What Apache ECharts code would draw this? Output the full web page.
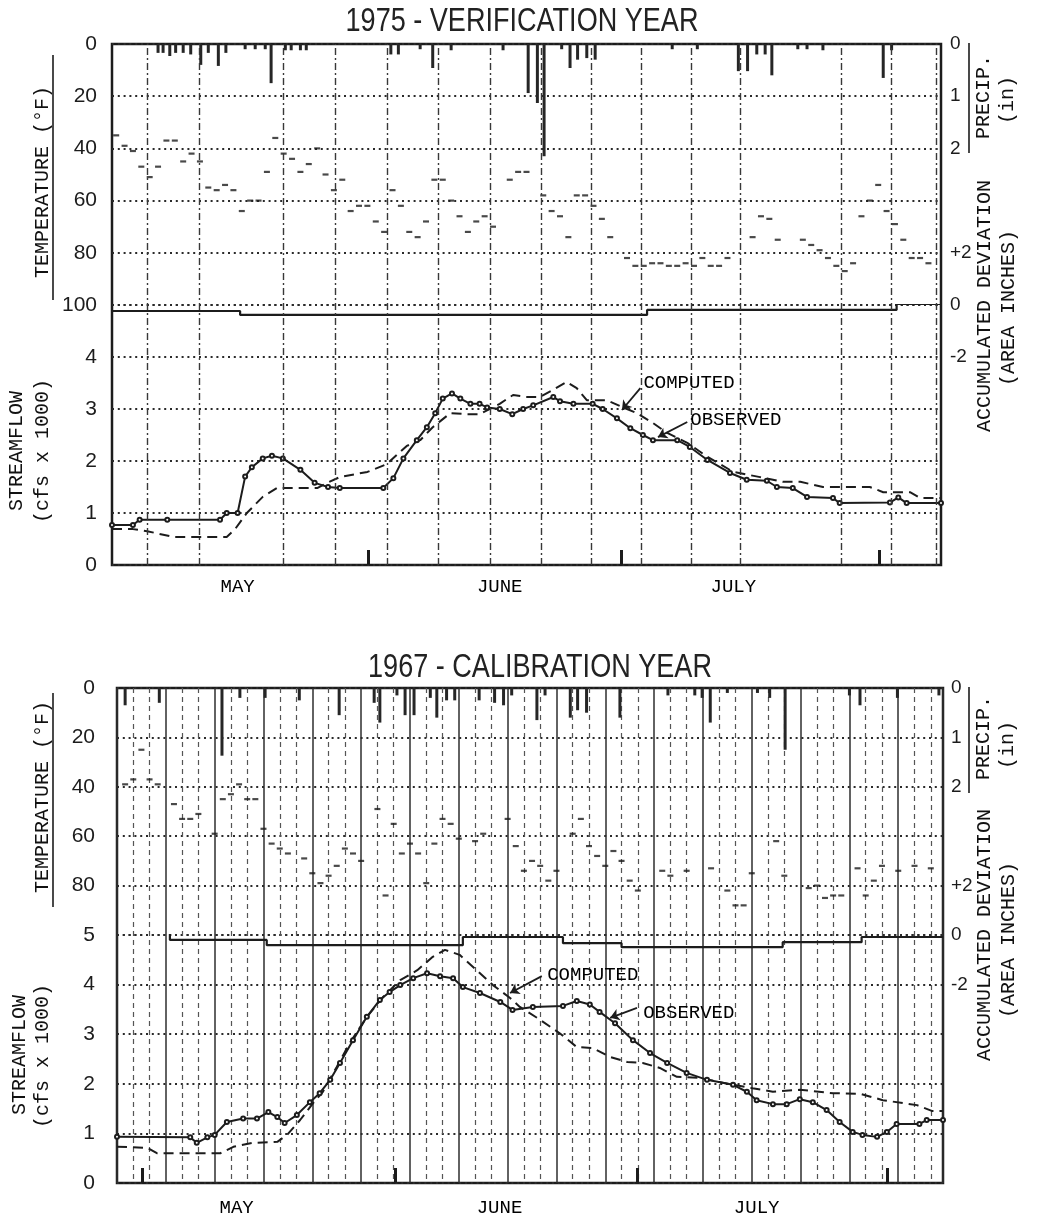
<!DOCTYPE html>
<html><head><meta charset="utf-8">
<script src="https://cdn.jsdelivr.net/npm/echarts/dist/echarts.min.js"></script>
<style>html,body{margin:0;padding:0;background:#fff}#c{width:1037px;height:1224px}</style>
</head><body><div id="c"></div>
<script>
// ---------------- DATA ----------------
const TITLES = ['1975 - VERIFICATION YEAR', '1967 - CALIBRATION YEAR'];
const MONTHS = ['MAY', 'JUNE', 'JULY'];
const topMonthPos = [15.0, 46.3, 74.2];
const botMonthPos = [14.7, 47.0, 78.6];
const topMonthEnds = [30.6, 60.8, 91.6];
const botMonthEnds = [3.1, 34.2, 63.9, 94.7];
const topVLines = [4.24, 10.39, 20.48, 26.63, 32.84, 38.93, 45.14, 51.23, 57.26, 63.17, 69.14, 75.05, 87.05, 93.03, 98.4];

// daily mean temperature (deg F), one per day, null = not visible
const topTemp = [35,39,41,47,51,47,37,37,45,42,45,55,56,54,56,64,60,60,49,36,42,44,49,46,40,50,56,52,64,62,62,68,72,56,62,72,74,68,52,52,60,66,72,68,66,70,null,52,49,49,null,58,64,66,74,58,58,62,67,74,null,82,85,85,84,84,85,85,84,85,82,85,85,82,null,null,74,66,67,75,null,null,75,77,79,82,85,87,84,66,60,54,64,69,75,82,82,84];
const botTemp = [39,37,25,37,39,null,47,53,53,51,null,59,45,43,39,45,45,57,63,65,67,null,69,75,79,76,72,65,67,70,null,49,84,55,67,63,67,79,63,53,55,61,null,62,59,null,null,53,64,74,70,72,78,74,null,59,53,64,68,72,66,70,78,82,null,null,74,76,null,74,null,null,73,null,82,88,88,75,null,null,62,76,null,null,81,80,85,84,84,null,73,84,78,72,null,74,null,72,null,73];

// precipitation (in)
const topPrecipDay = [5.5,6.1,6.9,7.6,8.5,9.4,10.6,11.5,12.7,13.6,15.9,17.1,18.3,19.0,20.7,21.4,22.5,23.2,33.3,34.2,36.8,38.3,40.5,46.7,49.7,50.8,51.6,53.7,54.7,55.6,56.7,57.7,66.9,69.9,74.8,75.9,77.0,78.0,78.8,81.9,83.0,84.9,92.1,93.1];
const topPrecip = [0.17,0.17,0.23,0.17,0.17,0.2,0.4,0.17,0.42,0.17,0.1,0.1,0.1,0.75,0.12,0.12,0.12,0.12,0.2,0.2,0.1,0.46,0.12,0.12,0.94,1.13,2.15,0.1,0.46,0.3,0.27,0.3,0.1,0.1,0.52,0.52,0.2,0.2,0.6,0.1,0.1,0.12,0.65,0.12];
const botPrecipDay = [1.0,5.2,12.9,15.1,18.2,22.4,27.3,31.6,32.3,34.4,35.4,36.5,38.5,39.3,40.5,41.5,44.5,46.4,47.5,48.5,51.6,52.6,55.7,56.6,57.7,61.8,67.7,71.0,71.9,72.9,75.0,78.7,80.2,82.1,90.0,91.3,95.9,101.0];
const botPrecip = [0.35,0.3,1.37,0.2,0.2,0.25,0.55,0.3,0.7,0.15,0.55,0.55,0.2,0.6,0.25,0.25,0.25,0.3,0.35,0.15,0.65,0.15,0.6,0.45,0.5,0.6,0.15,0.15,0.2,0.7,0.1,0.1,0.2,1.25,0.15,0.35,0.2,0.15];

// streamflow (cfs x 1000)
const topObsDay = [0,2.5,3.3,6.6,12.9,13.7,15.0,15.9,16.7,18.0,19.1,20.4,22.5,24.2,25.8,27.2,32.4,33.6,34.8,36.4,37.6,38.6,39.5,40.6,41.6,42.8,43.9,44.8,46.3,47.8,49.1,50.3,52.7,53.5,55.1,57.4,58.6,60.3,61.9,63.4,64.6,67.5,69.0,71.1,73.8,75.8,78.2,79.4,81.3,83.0,86.1,86.9,92.9,93.9,94.9,99];
const topObs = [0.77,0.77,0.87,0.87,0.87,1.0,1.0,1.7,1.88,2.05,2.1,2.05,1.83,1.58,1.5,1.48,1.48,1.67,2.05,2.4,2.65,2.92,3.2,3.3,3.2,3.1,3.1,3.03,3.0,2.9,3.0,3.07,3.23,3.15,3.1,3.1,3.0,2.82,2.63,2.5,2.4,2.4,2.27,2.02,1.77,1.64,1.62,1.5,1.48,1.31,1.29,1.19,1.2,1.3,1.19,1.19];
const topCompDay = [0,2.5,4.2,7.3,13.7,14.7,16.1,18.0,19.7,21.6,24.5,25.7,27.2,30.5,32.8,35.2,36.8,38.3,40.4,42.4,43.9,46.3,47.9,49.6,51.1,52.7,54.3,55.5,56.7,59.1,60.9,62.7,64.6,66.3,68.7,71.1,74.2,77.4,80.1,82.2,84.9,90.5,92.1,95.3,96.5,99];
const topComp = [0.69,0.69,0.65,0.54,0.54,0.69,1.0,1.31,1.48,1.48,1.48,1.58,1.69,1.79,1.94,2.29,2.4,2.65,2.92,2.9,2.9,3.1,3.27,3.23,3.23,3.37,3.52,3.4,3.17,3.17,3.04,2.92,2.73,2.54,2.35,2.08,1.79,1.69,1.6,1.6,1.5,1.5,1.4,1.4,1.29,1.29];
const botObsDay = [0,9.0,9.8,11.1,12.0,13.5,15.5,17.2,18.6,19.7,20.6,22.1,23.7,24.9,26.2,27.4,29.0,30.7,32.3,33.5,34.8,36.4,38.1,39.7,41.3,42.5,44.6,47.1,48.6,51.1,54.8,56.5,58.1,59.3,61.2,63.4,65.5,67.6,70.0,72.5,75.7,77.4,78.6,80.6,82.3,83.9,85.5,87.2,88.8,90.4,91.6,93.4,94.6,95.8,98.6,99.5,101.5];
const botObs = [0.93,0.92,0.81,0.92,0.97,1.23,1.3,1.3,1.43,1.33,1.21,1.37,1.63,1.81,2.08,2.42,2.88,3.35,3.69,3.85,3.99,4.13,4.23,4.17,4.13,3.95,3.83,3.65,3.49,3.55,3.57,3.67,3.6,3.45,3.22,2.88,2.62,2.42,2.22,2.08,1.98,1.84,1.67,1.59,1.59,1.69,1.63,1.47,1.23,1.03,0.97,0.93,1.03,1.19,1.19,1.27,1.27];
const botCompDay = [0,3.7,4.9,12.7,14.3,16.7,19.7,20.9,22.5,24.1,25.3,27.0,28.6,30.7,32.7,34.8,36.9,38.8,40.3,42.1,44.2,46.2,48.3,49.5,52.0,54.4,56.5,58.5,60.6,62.7,64.6,66.7,68.8,71.6,75.7,78.1,80.6,83.9,88.0,91.3,94.1,98.3,100.2,101.5];
const botComp = [0.73,0.71,0.6,0.6,0.73,0.81,0.83,0.97,1.27,1.61,1.84,2.34,2.82,3.35,3.75,4.09,4.29,4.56,4.7,4.6,4.29,3.99,3.73,3.55,3.29,3.02,2.74,2.72,2.54,2.44,2.42,2.32,2.14,2.12,1.98,1.91,1.84,1.88,1.81,1.8,1.67,1.57,1.45,1.45];

// accumulated deviation (area inches)
const topDevDay = [0,15.3,63.9,93.7,99];
const topDev = [-0.23,-0.38,-0.19,0.04,0.04];
const botDevDay = [0,6.5,18.4,42.5,54.8,62.0,81.8,91.5,101.5];
const botDev = [0.08,-0.2,-0.41,-0.08,-0.33,-0.49,-0.29,-0.08,-0.08];

// annotation anchors [day, flow]
const topCompLabel = [63.4, 3.5], topCompArrow = [[63.1, 3.4], [60.9, 2.98]];
const topObsLabel = [69.0, 2.79], topObsArrow = [[68.7, 2.75], [65.2, 2.46]];
const botCompLabel = [52.8, 4.19], botCompArrow = [[52.2, 4.17], [48.3, 3.83]];
const botObsLabel = [64.6, 3.43], botObsArrow = [[63.9, 3.53], [60.6, 3.33]];

// ---------------- BUILD ----------------
const MONO = "'Liberation Mono', 'DejaVu Sans Mono', monospace";
const SANS = "'Liberation Sans', Arial, sans-serif";
const INK = '#1c1c1c';
const dotted = {type: [2, 3.8], width: 2, color: '#2a2a2a'};

function pairs(xs, ys) { return xs.map((x, i) => [x, ys[i]]); }
function daily(vals, off) { const o = []; vals.forEach((v, i) => { if (v != null) o.push([i + off, v]); }); return o; }

const grid = [], xAxis = [], yAxis = [], series = [];

function panel(c) {
  const gi = grid.length, yi = yAxis.length;
  grid.push({left: c.left, top: c.top, width: c.width, height: c.hTemp});
  grid.push({left: c.left, top: c.top + c.hTemp, width: c.width, height: c.hFlow});
  grid.push({left: c.left, top: c.top, width: c.width, height: c.hTemp + c.hFlow, show: true, borderColor: INK, borderWidth: 2.5, backgroundColor: 'transparent'});

  xAxis.push({type: 'value', gridIndex: gi, min: 0, max: c.xMax, show: false});
  xAxis.push({type: 'value', gridIndex: gi + 1, min: 0, max: c.xMax,
    axisLine: {show: false}, splitLine: {show: false},
    axisTick: {show: true, customValues: c.monthEnds, inside: true, length: 15, lineStyle: {width: 3, color: INK}},
    axisLabel: {show: true, customValues: c.monthPos, margin: c.monthMargin, fontFamily: MONO, fontSize: 19, color: '#000',
      formatter: v => { const k = c.monthPos.findIndex(m => Math.abs(m - v) < 1e-6); return k >= 0 ? MONTHS[k] : ''; }}});
  if (c.gridSplit) {
    xAxis.push({type: 'value', gridIndex: gi + 2, min: 0, max: c.xMax, interval: 6,
      axisLine: {show: false}, axisTick: {show: false}, axisLabel: {show: false},
      splitLine: {show: true, lineStyle: {color: '#2e2e2e', width: 1.5}},
      minorTick: {show: false, splitNumber: 3},
      minorSplitLine: {show: true, lineStyle: {type: [5, 4], color: '#555', width: 1.2}}});
  } else {
    xAxis.push({type: 'value', gridIndex: gi + 2, min: 0, max: c.xMax, show: false});
  }

  const lab = {fontFamily: SANS, fontSize: 21, color: INK};
  const rlab = {fontFamily: SANS, fontSize: 19, color: INK};
  yAxis.push({type: 'value', gridIndex: gi, inverse: true, min: 0, max: 100, interval: 20, position: 'left',
    axisLine: {show: false}, axisTick: {show: false}, splitLine: {show: true, lineStyle: dotted},
    axisLabel: Object.assign({margin: c.lm, showMinLabel: true, showMaxLabel: true,
      formatter: v => (v === 100 && !c.show100) ? '' : String(v)}, lab)});
  yAxis.push({type: 'value', gridIndex: gi, inverse: true, min: 0, max: 5, interval: 1, position: 'right',
    axisLine: {show: false}, axisTick: {show: false}, splitLine: {show: false},
    axisLabel: Object.assign({margin: c.rm, showMinLabel: true, showMaxLabel: true,
      formatter: v => ({0: '0', 1: '1', 2: '2', 4: '+2'})[v] || ''}, rlab)});
  yAxis.push({type: 'value', gridIndex: gi + 1, min: 0, max: 5, interval: 1, position: 'left',
    axisLine: {show: false}, axisTick: {show: false}, splitLine: {show: true, lineStyle: dotted},
    axisLabel: Object.assign({margin: c.lm, showMinLabel: true, showMaxLabel: true,
      formatter: v => (v === 5 && c.show100) ? '' : String(v)}, lab)});
  yAxis.push({type: 'value', gridIndex: gi + 1, min: -10, max: 0, interval: 2, position: 'right',
    axisLine: {show: false}, axisTick: {show: false}, splitLine: {show: false},
    axisLabel: Object.assign({margin: c.rm, showMinLabel: true, showMaxLabel: true,
      formatter: v => v === 0 ? '0' : (v === -2 ? '-2' : '')}, rlab)});
  yAxis.push({type: 'value', gridIndex: gi + 2, min: 0, max: 1, show: false});

  const xi = gi;
  series.push({type: 'scatter', xAxisIndex: xi, yAxisIndex: yi, symbol: 'rect', symbolSize: [6, 2.2],
    itemStyle: {color: INK}, data: daily(c.temp, c.dayOff), silent: true});
  series.push({type: 'bar', xAxisIndex: xi, yAxisIndex: yi + 1, barWidth: 3,
    itemStyle: {color: '#262626'}, data: pairs(c.precipDay, c.precip), silent: true});
  const arrowML = (a) => ({silent: true, symbol: ['none', 'arrow'], symbolSize: 9, label: {show: false},
    lineStyle: {type: 'solid', color: INK, width: 1.8}, data: [[{coord: a[0]}, {coord: a[1]}]]});
  const labelMP = (p, t) => ({silent: true, symbol: 'rect', symbolSize: 1, itemStyle: {color: 'rgba(0,0,0,0)'},
    label: {show: true, position: 'right', distance: 0, formatter: t, fontFamily: MONO, fontSize: 19, color: '#000'},
    data: [{coord: p}]});
  series.push({type: 'line', name: 'OBSERVED', xAxisIndex: xi + 1, yAxisIndex: yi + 2, data: pairs(c.obsDay, c.obs),
    showSymbol: true, symbol: 'emptyCircle', symbolSize: 4, itemStyle: {color: INK, borderWidth: 1.1},
    lineStyle: {color: INK, width: 2}, silent: true,
    markPoint: labelMP(c.obsLabel, 'OBSERVED'), markLine: arrowML(c.obsArrow)});
  series.push({type: 'line', name: 'COMPUTED', xAxisIndex: xi + 1, yAxisIndex: yi + 2, data: pairs(c.compDay, c.comp),
    showSymbol: false, lineStyle: {color: INK, width: 2, type: [10, 6]}, silent: true,
    markPoint: labelMP(c.compLabel, 'COMPUTED'), markLine: arrowML(c.compArrow)});
  series.push({type: 'line', xAxisIndex: xi + 1, yAxisIndex: yi + 3, data: pairs(c.devDay, c.dev), step: 'end',
    showSymbol: false, lineStyle: {color: INK, width: 2.2}, silent: true});
  if (c.vlines) {
    series.push({type: 'line', xAxisIndex: xi + 2, yAxisIndex: yi + 4, data: [[0, 0.5]], showSymbol: false,
      lineStyle: {opacity: 0}, silent: true,
      markLine: {silent: true, symbol: ['none', 'none'], label: {show: false},
        lineStyle: {type: [7, 3, 2, 3], color: '#383838', width: 1.4},
        data: c.vlines.map(v => ({xAxis: v}))}});
  }
}

panel({left: 112, top: 44, width: 829, hTemp: 261, hFlow: 260, xMax: 99, dayOff: 0.5,
  lm: 15, rm: 9, monthMargin: 12, show100: true, gridSplit: false, vlines: topVLines,
  monthPos: topMonthPos, monthEnds: topMonthEnds,
  temp: topTemp, precipDay: topPrecipDay, precip: topPrecip,
  obsDay: topObsDay, obs: topObs, compDay: topCompDay, comp: topComp, devDay: topDevDay, dev: topDev,
  obsLabel: topObsLabel, obsArrow: topObsArrow, compLabel: topCompLabel, compArrow: topCompArrow});

panel({left: 117, top: 688, width: 826, hTemp: 247, hFlow: 248, xMax: 101.5, dayOff: 1.0,
  lm: 22, rm: 8, monthMargin: 15, show100: false, gridSplit: true, vlines: null,
  monthPos: botMonthPos, monthEnds: botMonthEnds,
  temp: botTemp, precipDay: botPrecipDay, precip: botPrecip,
  obsDay: botObsDay, obs: botObs, compDay: botCompDay, comp: botComp, devDay: botDevDay, dev: botDev,
  obsLabel: botObsLabel, obsArrow: botObsArrow, compLabel: botCompLabel, compArrow: botCompArrow});

function vtext(x, y, text, size) {
  return {type: 'text', x, y, rotation: Math.PI / 2, silent: true,
    style: {text, x: 0, y: 0, fill: '#111', font: size + 'px ' + MONO, textAlign: 'center', textVerticalAlign: 'middle', verticalAlign: 'middle'}};
}
function vline(x, y1, y2) {
  return {type: 'line', silent: true, shape: {x1: x, y1, x2: x, y2}, style: {stroke: INK, lineWidth: 1.6}};
}
function title(x, y, text) {
  return {type: 'text', x, y, scaleX: 0.82, silent: true,
    style: {text, x: 0, y: 0, fill: '#222', font: '33px ' + SANS, textAlign: 'center', textVerticalAlign: 'middle', verticalAlign: 'middle'}};
}

const graphic = [
  title(522, 22, TITLES[0]),
  vtext(43, 182, 'TEMPERATURE (°F)', 20), vline(53, 55, 300),
  vtext(17, 451, 'STREAMFLOW', 20), vtext(43, 451, '(cfs x 1000)', 20),
  vtext(984, 97, 'PRECIP.', 20), vtext(1008, 100, '(in)', 20), vline(969, 43, 153),
  vtext(985, 306, 'ACCUMULATED DEVIATION', 20), vtext(1009, 308, '(AREA INCHES)', 20),
  title(540, 668, TITLES[1]),
  vtext(43, 797, 'TEMPERATURE (°F)', 20), vline(53, 693, 907),
  vtext(20, 1055, 'STREAMFLOW', 20), vtext(43, 1056, '(cfs x 1000)', 20),
  vtext(984, 738, 'PRECIP.', 20), vtext(1008, 745, '(in)', 20), vline(969, 687, 793),
  vtext(985, 935, 'ACCUMULATED DEVIATION', 20), vtext(1009, 940, '(AREA INCHES)', 20)
];

const chart = echarts.init(document.getElementById('c'), null, {renderer: 'canvas'});
chart.setOption({
  backgroundColor: '#ffffff',
  animation: false,
  textStyle: {fontFamily: SANS},
  grid, xAxis, yAxis, series, graphic
});
</script></body></html>
